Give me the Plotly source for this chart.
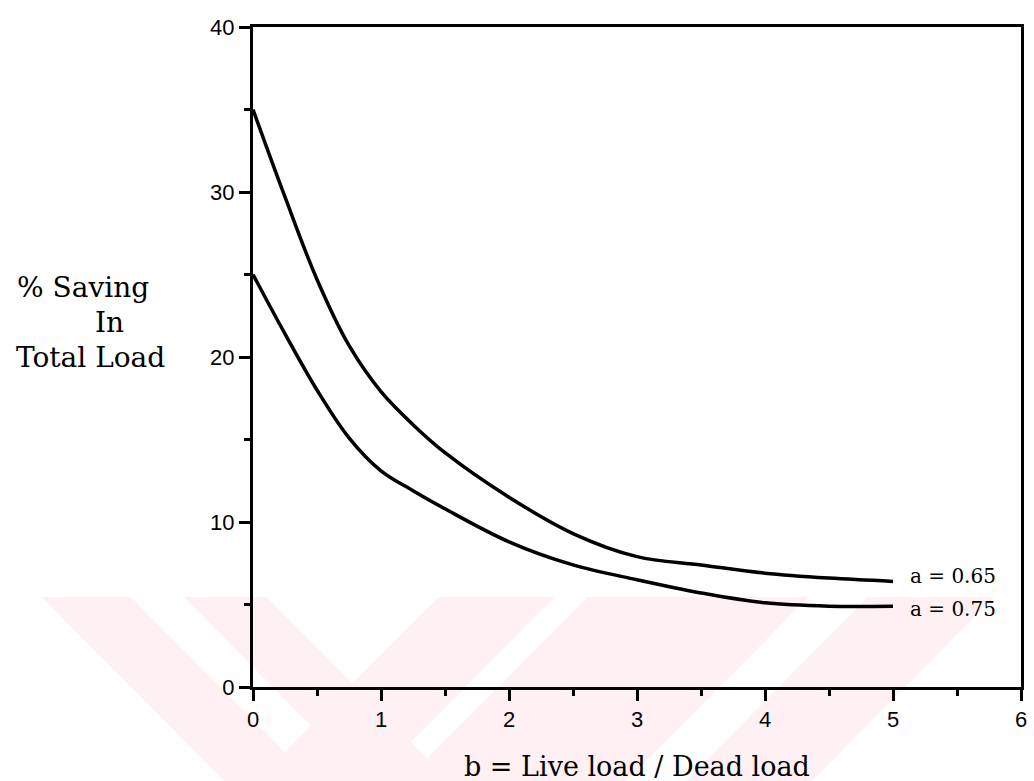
import plotly.graph_objects as go

# ---- data ----
b_values = [0, 0.25, 0.5, 0.75, 1.0, 1.25, 1.5, 2.0, 2.5, 3.0, 3.5, 4.0, 4.5, 5.0]
saving_a065 = [35.0, 29.7, 24.7, 20.7, 17.9, 15.9, 14.2, 11.5, 9.3, 7.9, 7.4, 6.9, 6.6, 6.4]
saving_a075 = [25.0, 21.4, 18.0, 15.1, 13.1, 11.9, 10.8, 8.8, 7.4, 6.5, 5.7, 5.1, 4.9, 4.9]
curve_labels = ["a = 0.65", "a = 0.75"]
x_ticks = [0, 1, 2, 3, 4, 5, 6]
y_ticks = [0, 10, 20, 30, 40]

W, H = 1034, 781
ML, MR, MT, MB = 253, 7, 27, 94
PW, PH = W - ML - MR, H - MT - MB


def px(x):
    return (x - ML) / PW


def py(y):
    return 1 - (y - MT) / PH


def poly(points):
    s = "M " + " L ".join(f"{px(a):.4f},{py(b):.4f}" for a, b in points) + " Z"
    return s


fig = go.Figure()
for ys in (saving_a065, saving_a075):
    fig.add_trace(go.Scatter(x=b_values, y=ys, mode="lines",
                             line=dict(color="black", width=3.5, shape="spline", smoothing=1.0),
                             showlegend=False, hoverinfo="skip"))

# faint watermark stripes
pink = "#fef0f3"
wm = [
    [(40, 597), (130, 597), (314, 781), (224, 781)],
    [(183, 597), (267, 597), (451, 781), (367, 781)],
    [(440, 597), (557, 597), (373, 781), (256, 781)],
    [(590, 597), (813, 597), (629, 781), (406, 781)],
    [(873, 597), (1000, 597), (816, 781), (689, 781)],
]
shapes = [dict(type="path", path=poly(p), xref="paper", yref="paper",
               fillcolor=pink, line=dict(width=0), layer="below") for p in wm]

annotations = []
# y title lines
for txt, x0, yc in [("% Saving", 13, 287), ("In", 92, 322), ("Total Load", 12, 358)]:
    annotations.append(dict(text=txt, x=px(x0), y=py(yc), xref="paper", yref="paper",
                            xanchor="left", yanchor="middle", showarrow=False,
                            font=dict(family="DejaVu Serif", size=28, color="black")))
# x title
annotations.append(dict(text="b = Live load / Dead load", x=0.5, y=py(767), xref="paper", yref="paper",
                        xanchor="center", yanchor="middle", showarrow=False,
                        font=dict(family="DejaVu Serif", size=27, color="black")))
# curve labels
for txt, yv in zip(curve_labels, [saving_a065[-1] + 0.3, saving_a075[-1] - 0.2]):
    annotations.append(dict(text=txt, x=5.12, y=yv, xref="x", yref="y",
                            xanchor="left", yanchor="middle", showarrow=False,
                            font=dict(family="DejaVu Serif", size=20, color="black")))

axis_common = dict(showgrid=False, zeroline=False, showline=True, linecolor="black", linewidth=3,
                   mirror=True, ticks="outside", ticklen=11, tickwidth=3, tickcolor="black",
                   tickfont=dict(family="Liberation Sans", size=22, color="black"))

fig.update_layout(
    width=W, height=H,
    margin=dict(l=ML, r=MR, t=MT, b=MB),
    paper_bgcolor="white", plot_bgcolor="rgba(0,0,0,0)",
    xaxis=dict(range=[0, 6], tickvals=x_ticks, ticktext=[str(v) for v in x_ticks],
               minor=dict(dtick=0.5, ticks="outside", ticklen=6, tickwidth=2.5, tickcolor="black"),
               **axis_common),
    yaxis=dict(range=[0, 40], tickvals=y_ticks, ticktext=[str(v) for v in y_ticks],
               minor=dict(dtick=5, ticks="outside", ticklen=6, tickwidth=2.5, tickcolor="black"),
               **axis_common),
    shapes=shapes,
    annotations=annotations,
)

fig.write_html("out.html")
